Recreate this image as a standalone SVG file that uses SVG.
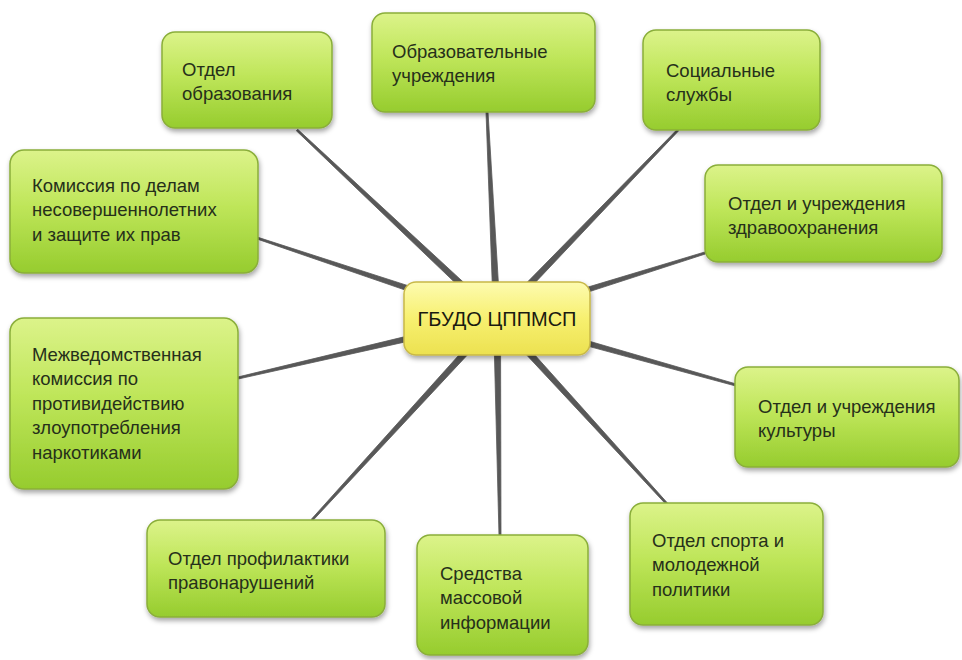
<svg xmlns="http://www.w3.org/2000/svg" width="962" height="660" viewBox="0 0 962 660">
<defs>
<linearGradient id="gG" x1="0" y1="0" x2="0" y2="1">
<stop offset="0" stop-color="#dcf38a"/>
<stop offset="0.45" stop-color="#bfe65a"/>
<stop offset="1" stop-color="#96cc2e"/>
</linearGradient>
<linearGradient id="gY" x1="0" y1="0" x2="0" y2="1">
<stop offset="0" stop-color="#fdfbb0"/>
<stop offset="0.5" stop-color="#f7f070"/>
<stop offset="1" stop-color="#ece150"/>
</linearGradient>
<filter id="sh" x="-10%" y="-10%" width="125%" height="130%">
<feDropShadow dx="1" dy="3" stdDeviation="2.5" flood-color="#000" flood-opacity="0.35"/>
</filter>
</defs>
<style>
.box{fill:url(#gG);stroke:#8aae3a;stroke-width:1.5;filter:url(#sh)}
.ctr{fill:url(#gY);stroke:#c8b848;stroke-width:1.5;filter:url(#sh)}
.t{font-family:"Liberation Sans",Arial,sans-serif;font-size:18.5px;fill:#26301a}
.tc{font-family:"Liberation Sans",Arial,sans-serif;font-size:20px;fill:#1a1a10;text-anchor:middle}
.ln{fill:#585858;stroke:#585858;stroke-width:0.8;stroke-linejoin:round}
</style>
<rect width="962" height="660" fill="#ffffff"/>
<g id="connectors">
<polygon class="ln" points="296.3,130.7 494.6,320.6 499.4,315.4 297.7,129.3"/>
<polygon class="ln" points="486,112 493.5,318.2 500.5,317.8 488,112"/>
<polygon class="ln" points="677.3,129.3 494.5,315.6 499.5,320.4 678.7,130.7"/>
<polygon class="ln" points="704.7,252 496,314.7 498,321.3 705.3,254"/>
<polygon class="ln" points="736.3,384 497.9,314.6 496.1,321.4 735.7,386"/>
<polygon class="ln" points="667.7,503.3 499.6,315.6 494.4,320.4 666.3,504.7"/>
<polygon class="ln" points="501,536 500.5,318 493.5,318 499,536"/>
<polygon class="ln" points="312.7,520.7 499.6,320.4 494.4,315.6 311.3,519.3"/>
<polygon class="ln" points="238.2,379 497.8,321.4 496.2,314.6 237.8,377"/>
<polygon class="ln" points="256.7,238.9 495.9,321.3 498.1,314.7 257.3,237.1"/>
</g>
<g id="n-center">
<rect class="ctr" x="404" y="282" width="186" height="73" rx="12"/>
<text class="tc" x="497" y="326">ГБУДО ЦППМСП</text>
</g>
<g id="n-otdel-obr">
<rect class="box" x="162" y="32" width="170" height="96" rx="13"/>
<text class="t" x="182" y="76">Отдел</text>
<text class="t" x="182" y="100">образования</text>
</g>
<g id="n-obr-uchr">
<rect class="box" x="372" y="13" width="223" height="99" rx="13"/>
<text class="t" x="392" y="58">Образовательные</text>
<text class="t" x="392" y="82">учреждения</text>
</g>
<g id="n-soc">
<rect class="box" x="643" y="30" width="177" height="100" rx="13"/>
<text class="t" x="666" y="77">Социальные</text>
<text class="t" x="666" y="101">службы</text>
</g>
<g id="n-zdrav">
<rect class="box" x="705" y="165" width="237" height="97" rx="13"/>
<text class="t" x="728" y="210">Отдел и учреждения</text>
<text class="t" x="728" y="234">здравоохранения</text>
</g>
<g id="n-kult">
<rect class="box" x="735" y="367" width="224" height="100" rx="13"/>
<text class="t" x="758" y="413">Отдел и учреждения</text>
<text class="t" x="758" y="437">культуры</text>
</g>
<g id="n-sport">
<rect class="box" x="630" y="503" width="193" height="122" rx="13"/>
<text class="t" x="652" y="547">Отдел спорта и</text>
<text class="t" x="652" y="571">молодежной</text>
<text class="t" x="652" y="596">политики</text>
</g>
<g id="n-smi">
<rect class="box" x="417" y="535" width="171" height="120" rx="13"/>
<text class="t" x="440" y="580">Средства</text>
<text class="t" x="440" y="604">массовой</text>
<text class="t" x="440" y="629">информации</text>
</g>
<g id="n-profil">
<rect class="box" x="147" y="520" width="238" height="97" rx="13"/>
<text class="t" x="168" y="565">Отдел профилактики</text>
<text class="t" x="168" y="589">правонарушений</text>
</g>
<g id="n-mezhved">
<rect class="box" x="10" y="318" width="228" height="171" rx="14"/>
<text class="t" x="32" y="361">Межведомственная</text>
<text class="t" x="32" y="385">комиссия по</text>
<text class="t" x="32" y="410">противидействию</text>
<text class="t" x="32" y="434">злоупотребления</text>
<text class="t" x="32" y="459">наркотиками</text>
</g>
<g id="n-kdn">
<rect class="box" x="10" y="150" width="248" height="123" rx="14"/>
<text class="t" x="32" y="192">Комиссия по делам</text>
<text class="t" x="32" y="216">несовершеннолетних</text>
<text class="t" x="32" y="241">и защите их прав</text>
</g>
</svg>
